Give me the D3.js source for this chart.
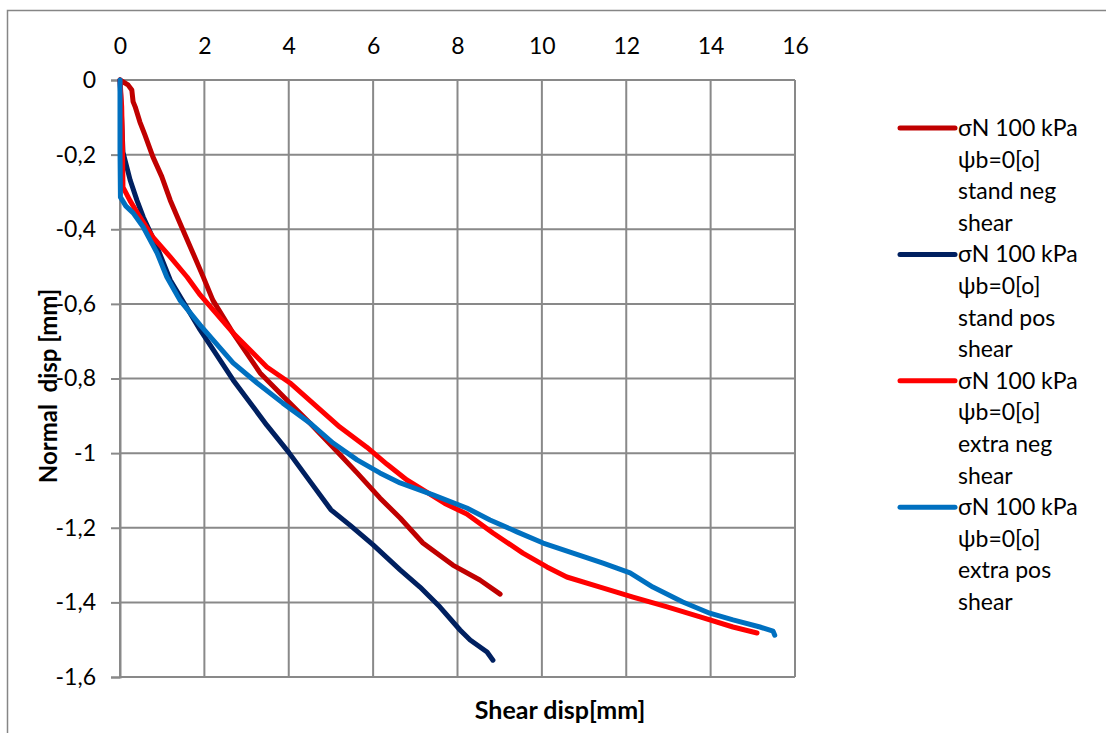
<!DOCTYPE html>
<html><head><meta charset="utf-8">
<script src="https://cdn.jsdelivr.net/npm/d3@7"></script>
<style>body{margin:0;background:#fff;} svg{display:block;}</style>
</head><body>
<svg id="chart" width="1106" height="733"></svg>
<script>
const seriesNames = [
  ["σN 100 kPa","ψb=0[o]","stand neg","shear"],
  ["σN 100 kPa","ψb=0[o]","stand pos","shear"],
  ["σN 100 kPa","ψb=0[o]","extra neg","shear"],
  ["σN 100 kPa","ψb=0[o]","extra pos","shear"]
];
const seriesColors = ["#C00000","#002060","#FF0000","#0070C0"];
const xTicks = [0,2,4,6,8,10,12,14,16];
const yTicks = [0,-0.2,-0.4,-0.6,-0.8,-1,-1.2,-1.4,-1.6];

const standNeg = [[0,0],[0.19,-0.013],[0.28,-0.027],[0.31,-0.058],[0.36,-0.072],[0.47,-0.112],[0.59,-0.147],[0.78,-0.206],[0.99,-0.259],[1.19,-0.322],[1.42,-0.383],[1.70,-0.456],[1.97,-0.527],[2.20,-0.590],[2.68,-0.678],[3.32,-0.785],[3.96,-0.858],[4.50,-0.919],[5.05,-0.984],[5.62,-1.053],[6.16,-1.120],[6.64,-1.174],[7.18,-1.241],[7.89,-1.300],[8.53,-1.340],[9.01,-1.378]];
const standPos = [[0,0],[0.02,-0.054],[0.05,-0.134],[0.07,-0.193],[0.24,-0.268],[0.40,-0.322],[0.55,-0.367],[0.88,-0.448],[1.19,-0.536],[1.90,-0.670],[2.68,-0.804],[3.48,-0.925],[4.00,-0.998],[4.50,-1.075],[5.00,-1.152],[5.45,-1.193],[6.00,-1.246],[6.64,-1.313],[7.11,-1.359],[7.58,-1.412],[8.06,-1.474],[8.30,-1.501],[8.70,-1.533],[8.84,-1.555]];
const extraNeg = [[0,0],[0.04,-0.072],[0.06,-0.188],[0.07,-0.287],[0.24,-0.324],[0.47,-0.367],[0.78,-0.421],[1.19,-0.474],[1.59,-0.528],[1.90,-0.576],[2.68,-0.678],[3.48,-0.769],[4.03,-0.812],[4.57,-0.866],[5.21,-0.930],[5.85,-0.984],[6.33,-1.030],[6.80,-1.072],[7.28,-1.105],[7.70,-1.135],[8.22,-1.163],[8.84,-1.214],[9.55,-1.268],[10.12,-1.305],[10.59,-1.332],[11.38,-1.359],[12.16,-1.386],[12.97,-1.412],[13.75,-1.439],[14.53,-1.466],[15.10,-1.482]];
const extraPos = [[0,0],[0,-0.188],[0.01,-0.314],[0.14,-0.338],[0.31,-0.356],[0.55,-0.394],[0.88,-0.464],[1.11,-0.528],[1.42,-0.590],[1.90,-0.657],[2.68,-0.758],[3.25,-0.812],[3.86,-0.866],[4.50,-0.919],[5.05,-0.973],[5.62,-1.018],[6.16,-1.053],[6.64,-1.080],[7.42,-1.112],[8.22,-1.147],[8.77,-1.179],[9.41,-1.211],[10.03,-1.241],[10.74,-1.268],[11.45,-1.295],[12.09,-1.321],[12.63,-1.359],[13.34,-1.399],[13.98,-1.429],[14.53,-1.447],[15.17,-1.466],[15.48,-1.477],[15.52,-1.488]];
const allSeries = [standNeg, standPos, extraNeg, extraPos];

const svg = d3.select("#chart");
const font = "Lato, 'Open Sans', sans-serif";
const grid = "#898989";
const L = 120, R = 795, T = 80, B = 677;
const x = d3.scaleLinear().domain([0,16]).range([L,R]);
const y = d3.scaleLinear().domain([0,-1.6]).range([T,B]);

// outer border
svg.append("rect").attr("x",7.5).attr("y",10.5).attr("width",1120).attr("height",740)
  .attr("fill","none").attr("stroke","#868686").attr("stroke-width",1.5);

// gridlines
svg.append("g").selectAll("line.v").data(xTicks).join("line")
  .attr("x1",d=>x(d)).attr("x2",d=>x(d)).attr("y1",T).attr("y2",B)
  .attr("stroke",grid).attr("stroke-width",2);
svg.append("g").selectAll("line.h").data(yTicks).join("line")
  .attr("x1",L).attr("x2",R).attr("y1",d=>y(d)).attr("y2",d=>y(d))
  .attr("stroke",grid).attr("stroke-width",2);

// y axis (left, outward ticks)
const yAxis = d3.axisLeft(y).tickValues(yTicks).tickSize(9).tickPadding(15)
  .tickFormat(d => d3.format(".1~f")(d).replace(".", ",").replace("−","-"));
const gy = svg.append("g").attr("transform",`translate(${L},0)`).call(yAxis);
gy.select(".domain").attr("stroke",grid).attr("stroke-width",2);
gy.selectAll(".tick line").attr("stroke",grid).attr("stroke-width",2);
gy.selectAll(".tick text").attr("font-family",font).attr("font-size",23).attr("fill","#000");

// x axis at top
const xAxis = d3.axisTop(x).tickValues(xTicks).tickSize(0).tickPadding(26).tickFormat(d3.format("d"));
const gx = svg.append("g").attr("transform",`translate(0,${T})`).call(xAxis);
gx.select(".domain").remove();
gx.selectAll(".tick text").attr("font-family",font).attr("font-size",23).attr("fill","#000");

// lines
const lineGen = d3.line().x(d=>x(d[0])).y(d=>y(d[1]));
svg.append("g").selectAll("path").data(allSeries).join("path")
  .attr("d", d=>lineGen(d)).attr("fill","none")
  .attr("stroke",(d,i)=>seriesColors[i]).attr("stroke-width",5)
  .attr("stroke-linejoin","round").attr("stroke-linecap","round");

// axis titles
svg.append("text").attr("x",560).attr("y",719).attr("text-anchor","middle")
  .attr("font-family",font).attr("font-weight","bold").attr("font-size",25).text("Shear disp[mm]");
svg.append("text").attr("transform",`translate(57,386) rotate(-90)`).attr("text-anchor","middle")
  .attr("font-family",font).attr("font-weight","bold").attr("font-size",24).attr("xml:space","preserve").text("Normal  disp [mm]");

// legend
const lg = svg.append("g");
const lineH = 31.6;
seriesNames.forEach((lines,i) => {
  const y0 = 128 + i*4*lineH;
  lg.append("line").attr("x1",900).attr("x2",955).attr("y1",y0).attr("y2",y0)
    .attr("stroke",seriesColors[i]).attr("stroke-width",5).attr("stroke-linecap","round");
  lines.forEach((t,j) => {
    lg.append("text").attr("x",958).attr("y",y0 + j*lineH).attr("dy","0.35em")
      .attr("font-family",font).attr("font-size",23).attr("fill","#000").text(t);
  });
});
</script>
</body></html>
